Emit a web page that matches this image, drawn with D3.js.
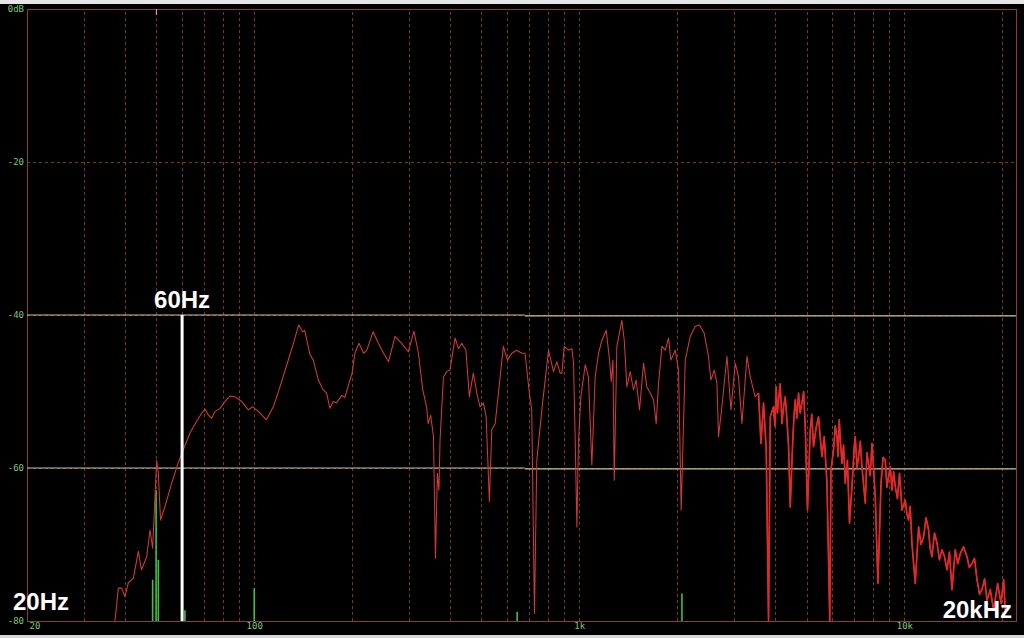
<!DOCTYPE html>
<html><head><meta charset="utf-8">
<script src="https://cdn.jsdelivr.net/npm/d3@7"></script>
<style>
html,body{margin:0;padding:0;background:#000;overflow:hidden}
svg{display:block}
</style></head><body>
<svg id="c" width="1024" height="638"></svg>
<script>
// ---- data ----
const freqs = [37.3,38.2,39.1,40.0,41.0,42.5,44.0,45.0,46.7,47.8,48.7,49.3,50.1,50.7,51.5,53.1,55.7,58.4,60.5,63.5,66.5,69.0,70.6,72.3,74.0,75.8,78.5,81.3,84.2,87.3,91.5,95.9,98.9,
103,109,114.5,120,126,132,137,141,143,148.5,152,157.5,163,167,171,175,179,186,190,
193,200,204,210,217,222,232,241,250,259,271,284,298,310,320,330,339,343,349,356,361,366,370,373,382,391,400,415,425,435,448,459,472,484,495,507,517,529,538,551,564,584,601,620,642,666,681,702,714,728,740,767,804,833,853,873,
884,899,926,949,960,971,983,994,1011,1043,1067,1093,1119,1146,1174,1210,1239,1254,1269,1281,1305,1352,1375,1401,1434,1468,1496,1532,1576,1614,1653,1692,1724,1753,1796,1838,1882,1913,1973,2020,2058,2118,2194,2273,2343,2423,2497,2540,2601,2651,2681,2746,2846,2928,3018,3089,3165,3280,3357,3477,3559,3621,3688,3759,3821,3868,
3959,3996,4034,4068,4102,4150,4202,4250,4301,4350,4403,4456,4541,4580,4617,4670,4726,4780,4840,4900,4955,5035,5133,5190,5255,5350,5444,5510,5577,5669,5780,5896,5945,6057,6130,6203,6250,6305,6360,6427,6500,6579,6680,6780,6949,7000,7062,7150,7231,7320,7402,7582,7670,7758,7850,7949,8040,8137,8292,8475,8600,8734,8840,8944,9050,9158,9270,9375,9520,9662,9750,9831,
10064,10180,10300,10420,10550,10800,11060,11250,11460,11660,11870,12000,12160,12380,12600,12820,13050,13280,13520,13760,14010,14340,14600,14860,15200,15580,15850,16140,16430,16730,17030,17330,17650,17960,18380,18820,19360,19830,20200,20440];
const levels = [-80,-75.7,-75.7,-76.8,-75.0,-74.4,-70.9,-73.3,-71.6,-68.1,-70.5,-65.5,-59.0,-60.7,-66.8,-65.1,-62.0,-59.3,-57.6,-55.4,-53.9,-52.8,-52.3,-53.1,-53.5,-52.6,-52.2,-51.3,-50.6,-50.7,-51.3,-52.4,-52.0,
-52.6,-53.7,-52.0,-49.4,-46.5,-43.7,-41.3,-42.2,-42.0,-45.2,-45.9,-48.5,-49.8,-50.2,-52.2,-51.3,-51.5,-50.5,-50.8,
-49.8,-47.6,-45.0,-43.7,-45.0,-44.6,-42.2,-43.7,-45.0,-46.1,-42.8,-43.7,-44.8,-42.1,-45.0,-49.8,-52.0,-54.2,-53.1,-55.9,-71.8,-60.7,-62.9,-56.3,-48.1,-47.4,-47.2,-43.0,-44.4,-43.7,-44.6,-50.7,-47.6,-50.2,-52.0,-51.5,-53.3,-64.4,-55.0,-54.2,-50.2,-44.1,-45.9,-45.0,-44.6,-45.0,-45.0,-50.2,-52.4,-79.0,-59.0,-52.4,-44.6,-47.4,-46.1,-47.6,
-47.6,-44.1,-44.6,-44.4,-46.3,-55.9,-67.7,-56.8,-50.7,-46.5,-48.1,-59.6,-48.1,-45.0,-43.3,-42.0,-45.9,-48.7,-45.9,-61.6,-44.1,-40.7,-43.3,-49.4,-47.4,-49.8,-48.5,-52.4,-46.3,-49.4,-50.2,-51.1,-54.2,-48.9,-44.1,-44.6,-43.0,-45.9,-44.6,-47.2,-65.5,-45.9,-42.8,-41.5,-41.3,-42.4,-45.4,-48.5,-47.2,-48.9,-55.9,-52.0,-45.4,-52.4,-46.3,-48.1,-54.2,-45.4,-48.1,-50.7,-50.2,-56.8,-51.5,-57.6,-80,-53.3,
-52.0,-54.5,-49.4,-52.8,-51.1,-49.0,-54.2,-52.0,-50.7,-53.5,-57.2,-65.1,-55.9,-53.0,-51.1,-53.5,-50.2,-52.8,-51.5,-50.0,-54.6,-65.5,-55.0,-53.0,-57.2,-54.8,-53.3,-56.0,-58.5,-55.9,-62.0,-80,-60.3,-57.6,-54.5,-55.9,-58.5,-53.7,-56.5,-59.4,-57.0,-62.0,-59.0,-67.2,-60.3,-57.5,-55.9,-60.0,-58.5,-56.5,-59.8,-64.6,-58.0,-59.4,-61.0,-56.8,-60.0,-63.8,-75.1,-62.0,-58.6,-59.0,-62.5,-61.1,-59.8,-62.9,-60.5,-62.4,-64.0,-60.7,-63.0,-65.5,
-64.2,-66.0,-66.8,-65.0,-69.8,-75.1,-67.7,-70.0,-69.0,-66.5,-68.1,-70.5,-71.6,-68.5,-69.8,-72.0,-70.7,-71.5,-73.3,-71.0,-75.9,-70.7,-72.5,-71.2,-70.3,-71.6,-73.0,-72.5,-71.8,-74.6,-76.5,-75.9,-74.5,-77.3,-75.9,-78.6,-75.1,-77.7,-74.6,-78.6];

const spikeFreqs  = [48.7, 49.9, 50.7, 61.2, 100, 644, 2069];
const spikeLevels = [-74.6, -62.9, -72.0, -78.6, -75.7, -78.8, -76.4];

const gridFreqs = [30,40,50,60,70,80,90,100,200,300,400,500,600,700,800,900,1000,2000,3000,4000,5000,6000,7000,8000,9000,10000,20000];
const xTickValues = [20,100,1000,10000];
const xTickLabels = ["20","100","1k","10k"];
const yTickValues = [0,-20,-40,-60,-80];
const yTickLabels = ["0dB","-20","-40","-60","-80"];
const refLevels = [-40,-60];
const refSplitFreq = 680;
const denseFrom = 3500;
const markerFreq = 60;
const markerTop = -40;
const markerLabel = "60Hz";
const startLabel = "20Hz";
const endLabel = "20kHz";

// ---- chart ----
const W=1024,H=638;
const L=27,R=1016,T=9,B=621;
const svg=d3.select("#c");
const x=d3.scaleLog().domain([20,22050]).range([L,R]);
const y=d3.scaleLinear().domain([-80,0]).range([B,T]);

svg.append("rect").attr("width",W).attr("height",H).attr("fill","#000");
svg.append("rect").attr("x",0).attr("y",0).attr("width",W).attr("height",4).attr("fill","#e6e6e6");
svg.append("rect").attr("x",0).attr("y",635).attr("width",W).attr("height",3).attr("fill","#d6d6d6");

// vertical dashed grid
svg.append("g").attr("transform",`translate(0,${B})`)
  .call(d3.axisBottom(x).tickValues(gridFreqs).tickSize(-(B-T)).tickFormat(""))
  .call(g=>{g.select(".domain").remove();
    g.selectAll("line").attr("stroke","#7a3434").attr("stroke-dasharray","3,3").attr("shape-rendering","crispEdges");});

// horizontal dashed grid
svg.append("g").attr("transform",`translate(${L},0)`)
  .call(d3.axisLeft(y).tickValues([-20,-40,-60]).tickSize(-(R-L)).tickFormat(""))
  .call(g=>{g.select(".domain").remove();
    g.selectAll("line").attr("stroke","#7a3434").attr("stroke-dasharray","3,3").attr("shape-rendering","crispEdges");});

// frame
svg.append("rect").attr("x",L).attr("y",T).attr("width",R-L).attr("height",B-T)
  .attr("fill","none").attr("stroke","#8c3a3a").attr("stroke-width",1).attr("shape-rendering","crispEdges");

// reference level lines (yellow)
refLevels.forEach(v=>{
  svg.append("line").attr("x1",x(20)).attr("x2",x(refSplitFreq)).attr("y1",y(v)).attr("y2",y(v))
    .attr("stroke","#c9c48a").attr("stroke-width",1.2);
  svg.append("line").attr("x1",x(refSplitFreq)).attr("x2",x(22050)).attr("y1",y(v)+0.8).attr("y2",y(v)+0.8)
    .attr("stroke","#c9c48a").attr("stroke-width",1.2);
});

// top small marker tick
svg.append("line").attr("x1",x(50)).attr("x2",x(50)).attr("y1",T).attr("y2",T+6)
  .attr("stroke","#e8b0b0").attr("stroke-width",1);

// green spikes
svg.append("g").selectAll("line").data(spikeFreqs).join("line")
  .attr("x1",d=>x(d)).attr("x2",d=>x(d))
  .attr("y1",B).attr("y2",(d,i)=>y(spikeLevels[i]))
  .attr("stroke","#3fc040").attr("stroke-width",1.6);

// curve
const pts=freqs.map((f,i)=>[f,levels[i]]);
const line=d3.line().x(d=>x(d[0])).y(d=>y(d[1]));
svg.append("path").datum(pts)
  .attr("fill","none").attr("stroke","#d03a3a").attr("stroke-width",1.05).attr("stroke-linejoin","round")
  .attr("d",line);
svg.append("path").datum(pts.filter(d=>d[0]>=denseFrom))
  .attr("fill","none").attr("stroke","#e02a2a").attr("stroke-width",1.7).attr("stroke-linejoin","round")
  .attr("d",line);

// 60Hz marker line
svg.append("line").attr("x1",x(markerFreq)).attr("x2",x(markerFreq))
  .attr("y1",y(markerTop)).attr("y2",B)
  .attr("stroke","#ffffff").attr("stroke-width",3);

// axes labels
svg.append("g").attr("transform",`translate(0,${B})`)
  .call(d3.axisBottom(x).tickValues(xTickValues).tickSize(0).tickPadding(3)
    .tickFormat(d=>xTickLabels[xTickValues.indexOf(d)]))
  .call(g=>{g.select(".domain").remove();
    g.selectAll("text").attr("fill","#7cc87c").style("font","9px 'DejaVu Sans Mono', monospace")
      .attr("dy","0.55em").attr("text-anchor",d=>d===20?"start":"middle").attr("dx",d=>d===20?"2":"0");});

svg.append("g").attr("transform",`translate(${L},0)`)
  .call(d3.axisLeft(y).tickValues(yTickValues).tickSize(0).tickPadding(3)
    .tickFormat(d=>yTickLabels[yTickValues.indexOf(d)]))
  .call(g=>{g.select(".domain").remove();
    g.selectAll("text").attr("fill","#7cc87c").style("font","9px 'DejaVu Sans Mono', monospace");});

// big annotations
const big="bold 24px 'Liberation Sans', Arial, sans-serif";
svg.append("text").attr("x",x(markerFreq)).attr("y",y(markerTop)-7).attr("text-anchor","middle")
  .attr("fill","#fff").style("font",big).text(markerLabel);
svg.append("text").attr("x",13).attr("y",610).attr("fill","#fff").style("font",big).text(startLabel);
svg.append("text").attr("x",1012).attr("y",618).attr("text-anchor","end").attr("fill","#fff").style("font",big).text(endLabel);
</script>
</body></html>
